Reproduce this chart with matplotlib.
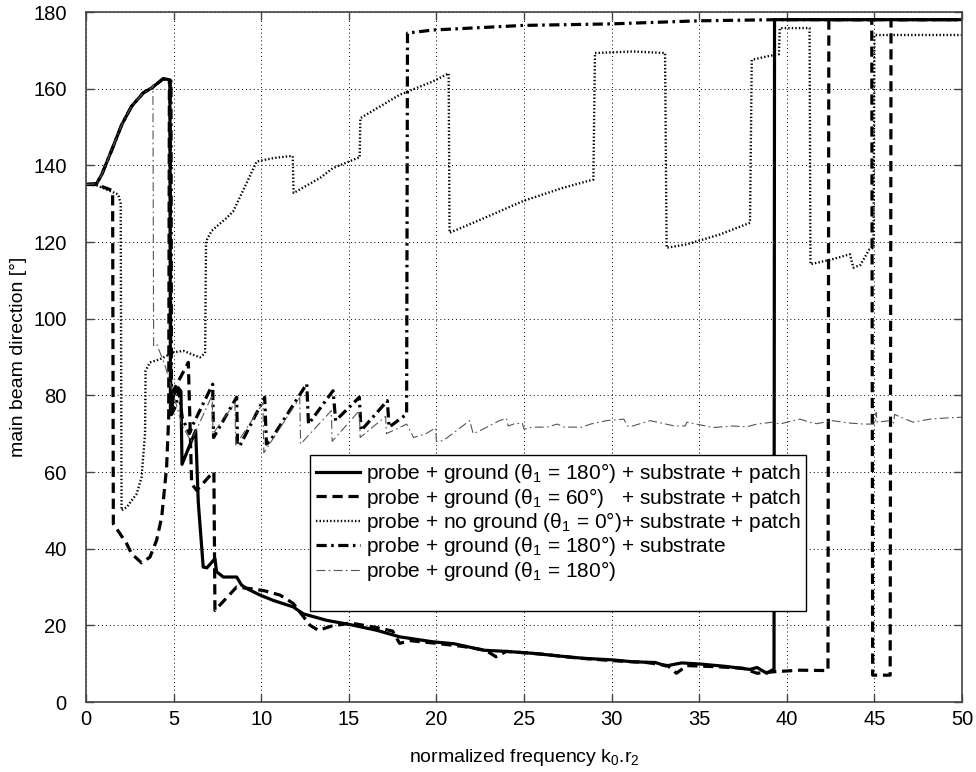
import matplotlib
matplotlib.use('Agg')
import matplotlib.pyplot as plt
from matplotlib.patches import Rectangle

plt.rcParams['font.family'] = ['Liberation Sans', 'DejaVu Sans']
plt.rcParams['mathtext.default'] = 'regular'

# probe + ground (180) + substrate + patch  (solid)
x1 = [0, 0.6, 0.9, 1.47, 2.04, 2.6, 3.27, 3.75, 4.41, 4.79, 4.82, 4.86, 5.0, 5.26, 5.42, 5.48,
      6.26, 6.41, 6.69, 6.9, 7.36, 7.45, 7.84, 8.6, 8.88, 9.17, 9.93, 10.69, 11.83, 12.4, 13.74,
      15.07, 16.6, 17.9, 19.8, 21.0, 22.7, 24.0, 25.5, 27.0, 28.4, 30.0, 31.2, 32.5, 33.1, 34.0,
      35.05, 36.5, 37.9, 38.3, 38.85, 39.2, 39.27, 39.3, 50]
y1 = [135, 135.2, 137.6, 144, 150.6, 155.4, 158.9, 160.2, 162.6, 162.3, 75, 75, 80, 82, 81, 62,
      70.8, 52, 35.2, 35, 37.4, 34, 32.6, 32.6, 30.5, 29.6, 27.9, 26.5, 24.8, 23, 21.3,
      20.2, 18.7, 17, 15.7, 15.2, 13.5, 13.2, 12.7, 12.0, 11.4, 11.0, 10.5, 10.3, 9.4, 10.2,
      9.9, 9.3, 8.5, 9.0, 7.5, 8.4, 8.4, 178, 178]

# probe + ground (60) + substrate + patch  (dashed)
x2 = [0, 0.6, 1.47, 1.52, 1.56, 2.32, 2.6, 3.17, 3.65, 4.03, 4.32, 4.6, 4.72, 4.76, 4.8, 4.84,
      5.08, 5.84, 6.03, 6.32, 7.26, 7.3, 7.36, 8.6, 9.5, 10.2, 11.07, 11.83, 12.79, 13.26, 14.02,
      15.1, 16.5, 17.5, 17.9, 18.5, 19.8, 21.5, 22.8, 23.4, 24.0, 26, 28, 30, 32, 33.2, 33.7,
      34.3, 36, 37.5, 38.3, 39.3, 40.75, 42.35, 42.4, 44.85, 44.9, 45.9, 45.95, 50]
y2 = [135, 135, 133.5, 133, 46.5, 41.3, 38.7, 36.3, 37.8, 42.2, 48.2, 61.2, 74.3, 162, 162, 80,
      82, 88.6, 56.9, 55.2, 60, 60, 23.9, 30, 29.5, 29, 27.9, 25.7, 20, 18.7, 19.8,
      20.6, 19.5, 18.5, 15.3, 16.0, 15.4, 14.5, 13.5, 11.8, 13.2, 12.5, 11.5, 10.8, 10.3, 9.5, 7.5,
      9.5, 9.2, 8.8, 7.5, 7.9, 8.3, 8.2, 178, 178, 7, 7, 178, 178]

# probe + no ground (0) + substrate + patch  (dotted)
x3 = [0, 0.6, 1.84, 1.98, 2.03, 2.32, 2.89, 3.17, 3.37, 3.4, 3.65, 4.22, 4.98, 5.55, 6.5, 6.8,
      6.85, 7.17, 8.03, 8.4, 9.17, 9.74, 10.7, 11.64, 11.8, 11.85, 13.36, 14.1, 15.5, 15.62, 15.66,
      17.9, 19.8, 20.7, 20.75, 22.5, 24.96, 27.2, 28.96, 29.05, 31.24, 33.05, 33.14, 34.3, 36.2,
      37.9, 38.0, 38.85, 39.3, 39.55, 39.6, 41.3, 41.35, 42.6, 43.6, 43.8, 44.2, 44.7, 44.95, 45.0,
      50]
y3 = [135, 134.8, 132.4, 130, 50, 50.8, 54.3, 58.6, 70, 86.4, 88.6, 89.4, 91.2, 91.6, 89.9, 91,
      120.2, 122.9, 126.3, 128, 135.4, 141, 141.9, 142.4, 142.4, 132.8, 136.7, 139.3, 141.9, 142, 152.3,
      158.4, 161.9, 164, 122.4, 125.8, 130.7, 134.1, 136.3, 169.3, 169.7, 169.3, 118.5, 119.4, 122,
      125, 167.5, 168.4, 168.8, 169, 175.8, 175.8, 114.2, 115.5, 116.8, 113.3, 114, 118, 118.5, 174,
      174]

# probe + ground (180) + substrate  (thick dash-dot)
x4 = [0, 0.6, 0.9, 1.47, 2.04, 2.6, 3.27, 3.75, 4.41, 4.85, 4.88, 5.1, 5.3, 5.5, 5.9, 6.12,
      7.23, 7.28, 8.6, 8.65, 8.8, 10.2, 10.3, 10.5, 12.6, 12.7, 14.1, 14.25, 15.6, 15.7, 17.2,
      17.3, 18.3, 18.35, 19.8, 24.96, 30, 34.95, 39.4, 50]
y4 = [135, 135.2, 137.6, 144, 150.6, 155.4, 158.9, 160.2, 162.6, 162, 75, 77, 81, 74, 70, 72.5,
      82.9, 69, 79.5, 66.9, 67, 79.5, 67.3, 68, 83, 72.5, 81.2, 73.4, 79.5, 70.8, 78.6,
      71.7, 75.1, 174.5, 175.3, 176.5, 176.9, 177.7, 178, 178]

# probe + ground (180)  (thin dash-dot)
x5 = [0, 0.6, 0.9, 1.47, 2.04, 2.6, 3.27, 3.75, 3.82, 3.86, 4.03, 4.5, 5.0, 5.5, 6.0, 7.2,
      7.25, 8.5, 8.55, 10.1, 10.15, 12.2, 12.25, 14.0, 14.05, 15.6, 15.65, 17.1, 17.15, 18.3,
      18.7, 19.4, 19.96, 20.0, 20.4, 21.9, 22.1, 22.5, 23.6, 24.0, 24.1, 24.4, 24.9, 25.0, 25.5,
      26.3, 26.9, 27.3, 28.3, 28.8, 29.7, 30.7, 30.9, 31.2, 32.2, 33.6, 34.2, 34.3, 35.8, 36.9,
      37.7, 38.3, 39.2, 39.6, 40.0, 40.75, 41.3, 41.7, 42.6, 43.5, 44.4, 45.05, 45.1, 45.15, 45.9,
      46.1, 46.15, 47.2, 48.2, 49.1, 50]
y5 = [135, 135.2, 137.6, 144, 150.6, 155.4, 158.9, 160.2, 161, 93, 93.4, 88, 80, 72, 68, 80,
      70, 78, 67, 78, 65, 79.4, 67.3, 76, 68, 76, 69, 74.5, 70, 72.5,
      69, 70, 71.5, 68, 68.2, 73.4, 70, 70.8, 73.4, 74, 72, 72.5, 72.8, 71.2, 71.7,
      71.7, 72.5, 71.7, 71.7, 72.5, 73.4, 73.8, 72, 72, 73.4, 72, 72, 73, 71.6, 72,
      71.8, 72.5, 73, 72.5, 73, 73.8, 73, 72.6, 73.4, 72.8, 72.5, 72.5, 75.5, 73, 73.4,
      72.8, 75, 73, 73.8, 74.1, 74.3]

labels = [r'probe + ground ($\theta_1$ = 180°) + substrate + patch',
          r'probe + ground ($\theta_1$ = 60°)   + substrate + patch',
          r'probe + no ground ($\theta_1$ = 0°)+ substrate + patch',
          r'probe + ground ($\theta_1$ = 180°) + substrate',
          r'probe + ground ($\theta_1$ = 180°)']

x_ticks = list(range(0, 51, 5))
y_ticks = list(range(0, 181, 20))

fig = plt.figure(figsize=(9.76, 7.72), dpi=100)
ax = fig.add_axes([86 / 976, 70 / 772, 876 / 976, 690 / 772])

ax.plot(x1, y1, color='black', linewidth=2.3, linestyle='-', label=labels[0])
ax.plot(x2, y2, color='black', linewidth=2.3, linestyle=(0, (3.2, 1.8)), label=labels[1])
ax.plot(x3, y3, color='black', linewidth=1.7, linestyle=(0, (0.6, 0.9)), label=labels[2])
ax.plot(x4, y4, color='black', linewidth=2.3, linestyle=(0, (3.2, 1.4, 0.8, 1.4)), label=labels[3])
ax.plot(x5, y5, color='#555555', linewidth=0.8, linestyle=(0, (8, 3, 1.5, 3)), label=labels[4])

ax.set_xlim(0, 50)
ax.set_ylim(0, 180)
ax.set_xticks(x_ticks)
ax.set_yticks(y_ticks)
ax.tick_params(direction='in', top=True, right=True, length=6, width=1,
               labelsize=14.5, color='#444444')
ax.tick_params(axis='y', pad=14)
ax.tick_params(axis='x', pad=6)
ax.grid(True, color='black', linestyle=(0, (1, 3)), linewidth=0.7)
for sp in ax.spines.values():
    sp.set_color('#444444')
    sp.set_linewidth(1.2)

ax.set_xlabel(r'normalized frequency k$_0$.r$_2$', fontsize=14, labelpad=13)
ax.set_ylabel('main beam direction [°]', fontsize=14, labelpad=4)

# legend box (drawn separately, MATLAB leaves extra room under the last row)
box = Rectangle((0.2557, 0.1319), 0.5662, 0.2261, transform=ax.transAxes,
                facecolor='white', edgecolor='black', linewidth=1.0, zorder=4)
ax.add_patch(box)
leg = ax.legend(loc='upper left', bbox_to_anchor=(0.2557, 0.358), fontsize=15,
                frameon=False, handlelength=2.1, handletextpad=0.3,
                labelspacing=0.02, borderpad=0.3, borderaxespad=0)
leg.set_zorder(5)

fig.savefig('out.png', dpi=100)
